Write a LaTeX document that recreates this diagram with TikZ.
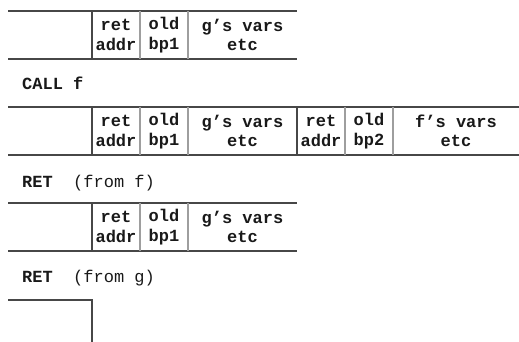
\documentclass[tikz,border=0pt]{standalone}
\usepackage{fontspec}
\setmonofont{Liberation Mono}
\begin{document}
\begin{tikzpicture}[x=1pt,y=-1pt,
  rule/.style={draw=black!72, line width=1.5pt},
  sep/.style={draw=black!38, line width=1.3pt},
  cell/.style={font=\ttfamily\bfseries\fontsize{17}{19.5}\selectfont, align=center, inner sep=0pt, text=black!90},
  caption/.style={font=\ttfamily\fontsize{17}{19.5}\selectfont, anchor=base west, inner sep=0pt, text=black!90}]
\useasboundingbox (0,0) rectangle (519,342);

% stack with g's frame only
\draw[rule] (8,11) -- (297,11);
\draw[rule] (8,59) -- (297,59);
\draw[rule] (92,11) -- (92,59);
\draw[sep] (140,11) -- (140,59);
\draw[sep] (188,11) -- (188,59);
\node[cell] (ga1) at (116,35) {ret\\addr};
\node[cell] (gb1) at (164,35) {old\\bp1};
\node[cell] (gv1) at (242.5,35) {g’s vars\\etc};

\node[caption] (call) at (22,90) {\bfseries CALL f};

% stack after the call: g's frame then f's frame
\draw[rule] (8,107) -- (519,107);
\draw[rule] (8,155) -- (519,155);
\draw[rule] (92,107) -- (92,155);
\draw[sep] (140,107) -- (140,155);
\draw[sep] (188,107) -- (188,155);
\draw[rule] (297,107) -- (297,155);
\draw[sep] (345,107) -- (345,155);
\draw[sep] (393,107) -- (393,155);
\node[cell] (ga2) at (116,131) {ret\\addr};
\node[cell] (gb2) at (164,131) {old\\bp1};
\node[cell] (gv2) at (242.5,131) {g’s vars\\etc};
\node[cell] (fa2) at (321,131) {ret\\addr};
\node[cell] (fb2) at (369,131) {old\\bp2};
\node[cell] (fv2) at (456,131) {f’s vars\\etc};

\node[caption] (retf) at (22,187) {{\bfseries RET}\ \ (from f)};

% back to g's frame
\draw[rule] (8,203) -- (297,203);
\draw[rule] (8,251) -- (297,251);
\draw[rule] (92,203) -- (92,251);
\draw[sep] (140,203) -- (140,251);
\draw[sep] (188,203) -- (188,251);
\node[cell] (ga3) at (116,227) {ret\\addr};
\node[cell] (gb3) at (164,227) {old\\bp1};
\node[cell] (gv3) at (242.5,227) {g’s vars\\etc};

\node[caption] (retg) at (22,282) {{\bfseries RET}\ \ (from g)};

% caller's stack only
\draw[rule] (8,300) -- (92,300) -- (92,342);
\end{tikzpicture}
\end{document}
